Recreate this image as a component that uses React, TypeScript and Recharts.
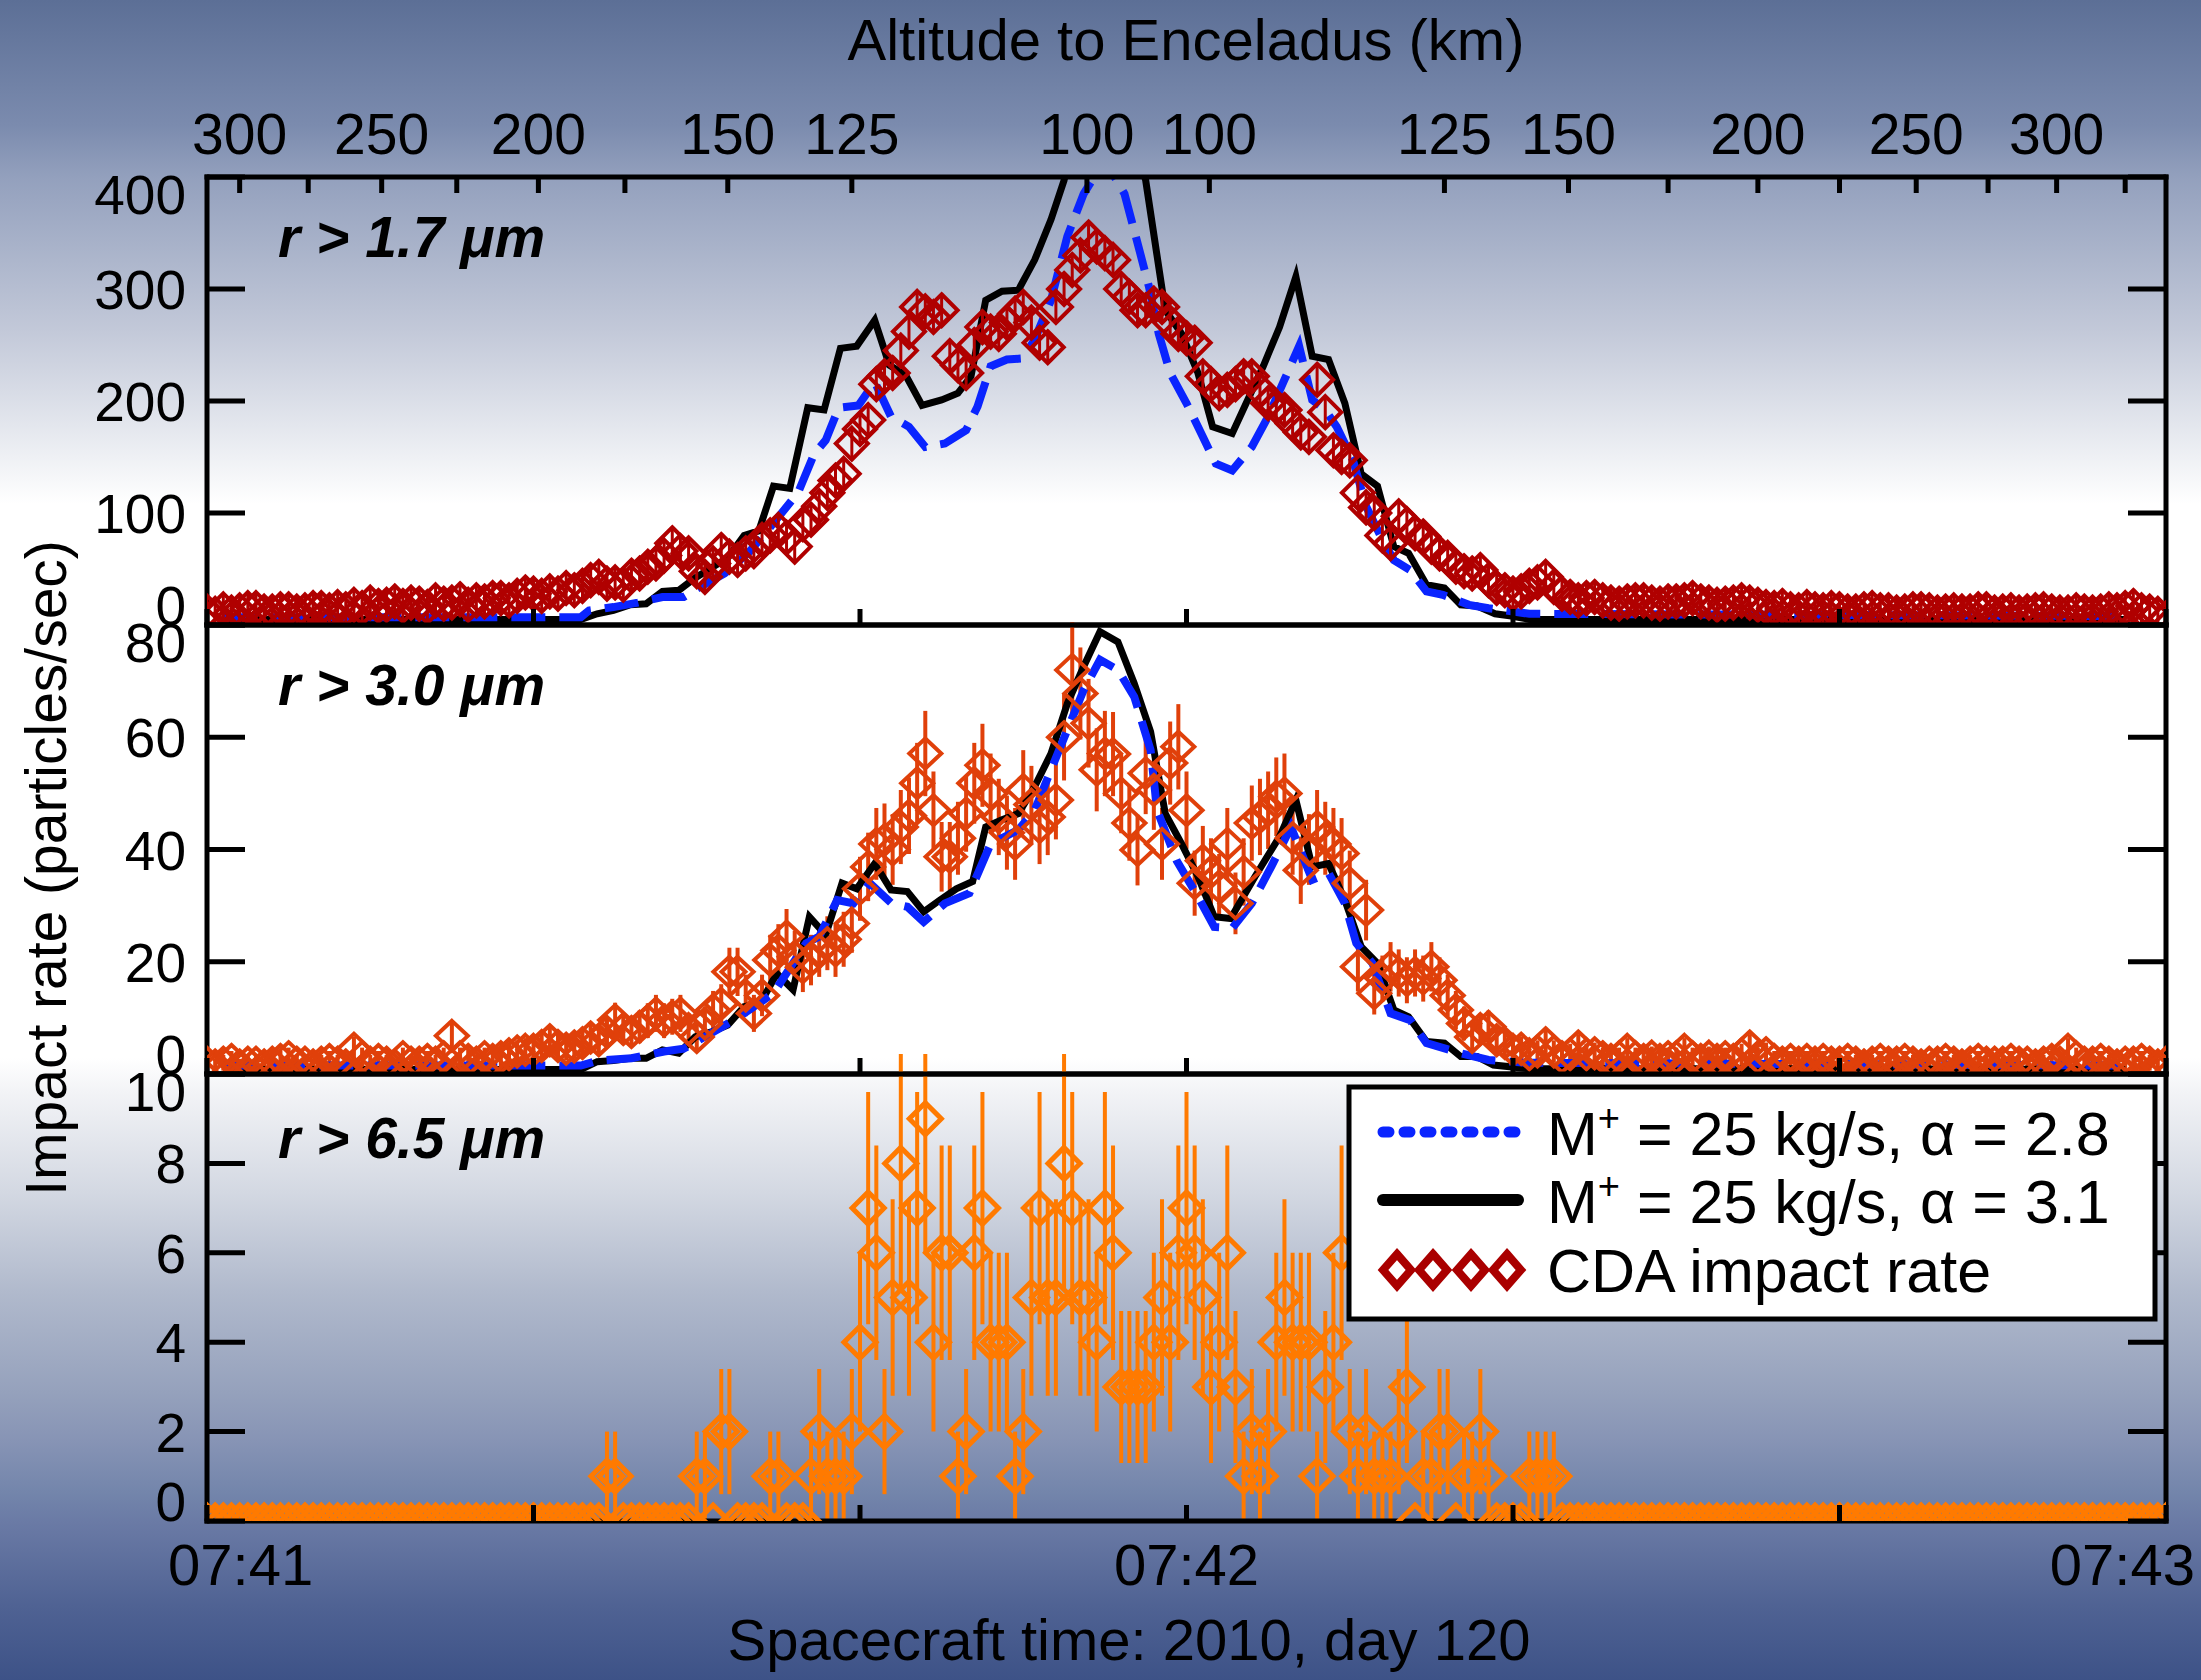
import React from "react"
import { ComposedChart, Line, Scatter, XAxis, YAxis, ErrorBar } from "recharts"

const FONT = '"Liberation Sans", Arial, Helvetica, sans-serif'

// x is seconds after 07:41:00 (spacecraft time, 2010 day 120)
const timeTicks = [0, 20, 40, 60, 80, 100, 120]
const timeLabels = ["07:41", "", "", "07:42", "", "", "07:43"]

// altitude to Enceladus (km) -> time of crossing
const altTickTimes = [2.0, 6.2, 10.7, 15.3, 20.3, 25.6, 31.9, 39.5, 53.9, 61.4, 75.8, 83.4, 89.5, 95.0, 100.0, 104.7, 109.1, 113.3, 117.5]
const altTickLabels = ["300", "", "250", "", "200", "", "150", "125", "100", "100", "125", "150", "", "200", "", "250", "", "300", ""]

const p1Ticks = [0, 100, 200, 300, 400]
const p2Ticks = [0, 20, 40, 60, 80]
const p3Ticks = [0, 2, 4, 6, 8, 10]

// model: M+ = 25 kg/s, alpha = 3.1 (black) and 2.8 (blue), r > 1.7 um
const p1BlackT = [1, 22.9, 23.9, 24.9, 25.9, 26.9, 27.9, 28.9, 29.9, 30.9, 31.9, 32.9, 33.8, 34.7, 35.7, 36.8, 37.8, 38.8, 39.8, 40.9, 41.8, 42.8, 43.8, 45, 46, 46.8, 47.7, 48.7, 49.7, 50.7, 51.7, 52.5, 53.5, 54.7, 56, 57.5, 58.7, 59.7, 60.7, 61.6, 62.8, 64.7, 65.7, 66.7, 67.7, 68.7, 69.7, 70.7, 71.7, 72.7, 73.6, 74.7, 75.8, 76.8, 77.8, 78.9, 79.9, 81, 117.5]
const p1BlackV = [5, 5, 10, 13, 18, 19, 30, 31, 42, 51, 60, 80, 84, 124, 122, 194, 192, 247, 249, 272, 232, 223, 196, 201, 207, 222, 290, 298, 299, 326, 362, 397, 470, 540, 470, 397, 281, 260, 225, 177, 171, 231, 266, 311, 240, 237, 198, 135, 124, 70, 64, 36, 33, 18, 17, 10, 8, 5, 5]
const p1BlueT = [1, 22.9, 23.4, 24.9, 26.4, 27.9, 29.2, 30.2, 31.7, 33.2, 34.2, 35.2, 36.2, 37.2, 37.9, 38.7, 39.9, 40.9, 41.9, 43, 44, 45.2, 46.5, 47.2, 48, 49, 50, 50.7, 51.7, 52.7, 53.7, 55, 56.2, 57.2, 57.7, 58.3, 59, 60, 61, 61.8, 62.8, 64, 65, 66, 66.9, 67.7, 68.5, 69.2, 70.2, 71, 72, 72.7, 73.7, 74.7, 75.7, 77.3, 78.5, 81, 117.5]
const p1BlueV = [7, 7, 13, 16, 20, 25, 25, 34, 46, 65, 82, 100, 118, 153, 165, 194, 196, 217, 186, 177, 159, 162, 174, 195, 231, 237, 238, 255, 290, 347, 385, 415, 385, 330, 302, 260, 225, 198, 168, 144, 138, 159, 186, 219, 249, 201, 192, 177, 147, 106, 76, 58, 49, 30, 27, 18, 15, 10, 8]

// r > 3.0 um
const p2BlackT = [1, 22.9, 23.9, 24.9, 25.9, 26.9, 27.9, 28.9, 29.9, 30.9, 31.9, 32.9, 33.9, 34.9, 35.9, 36.9, 37.9, 38.9, 39.8, 40.9, 41.9, 42.9, 43.9, 44.9, 45.9, 46.9, 47.7, 48.7, 49.7, 50.7, 51.7, 52.7, 53.7, 54.7, 55.8, 56.8, 57.8, 58.7, 59.7, 60.7, 61.7, 62.7, 64.2, 65.7, 66.7, 67.7, 68.7, 69.7, 70.7, 71.7, 72.7, 73.6, 74.7, 75.8, 76.8, 77.8, 78.8, 80.8, 117.5]
const p2BlackV = [0.8, 0.8, 2.2, 2.4, 2.8, 2.8, 4.3, 3.7, 6.6, 7.5, 8.7, 12, 12.6, 17.9, 15, 28, 24.8, 34, 33, 37.5, 32.8, 32.5, 28.9, 31, 33, 34.3, 44, 45.3, 46.4, 51.2, 57.1, 66, 72.6, 78.8, 77, 69.6, 61, 46.4, 41, 35.2, 28, 27.7, 35.2, 42.3, 48.8, 36.9, 37.5, 31, 22.7, 19.7, 11.4, 10.2, 5.8, 5.5, 3.1, 3.1, 1.6, 1.0, 0.8]
const p2BlueT = [1, 22.9, 24, 26, 28, 29.2, 30.9, 32.5, 34.7, 36.7, 37.5, 38.6, 39.6, 40.6, 41.9, 42.9, 43.9, 45.2, 46.7, 48, 49.7, 50.7, 51.7, 52.7, 53.7, 54.7, 55.8, 56.8, 57.8, 58.2, 59.4, 60.7, 61.7, 62.8, 64, 65.2, 66.4, 67.7, 68.7, 69.7, 70.4, 71.4, 72.5, 73.7, 74.7, 76.8, 78.5, 80.8, 117.5]
const p2BlueV = [1.5, 1.5, 2.4, 2.8, 4, 4.5, 7.3, 10, 14.4, 23.3, 24.5, 31, 30.4, 34, 30.5, 29.8, 27.1, 30.4, 32.2, 41, 43.5, 47, 54.2, 61.3, 68.4, 73.8, 72, 67.2, 57.7, 47, 38, 31.6, 26.2, 26, 30.4, 37, 44, 34.6, 35.8, 30.4, 23.3, 19.7, 10.8, 9.6, 5.5, 3.7, 2.5, 2.0, 1.5]

// CDA impact rates, one sample every 0.5 s from 07:41:00
const cdaStep = 0.5
const p1Rate = [
  12, 10, 14, 11, 13, 15, 15, 12, 12, 14, 14, 12, 13, 15, 15, 13, 16, 14, 18, 15,
  20, 17, 18, 21, 17, 20, 19, 16, 22, 19, 20, 23, 18, 22, 21, 24, 24, 22, 26, 29,
  28, 26, 30, 28, 33, 31, 35, 40, 43, 37, 38, 36, 44, 46, 52, 55, 62, 73, 66, 64,
  48, 43, 55, 67, 61, 58, 64, 66, 76, 80, 85, 78, 70, 90, 94, 106, 118, 129, 135, 162,
  175, 183, 215, 222, 225, 245, 262, 284, 280, 275, 281, 240, 232, 225, 250, 266, 262, 260, 270, 278,
  284, 270, 252, 248, 284, 300, 317, 330, 346, 338, 332, 326, 300, 293, 281, 281, 287, 284, 270, 260,
  256, 252, 222, 215, 207, 210, 215, 222, 222, 210, 198, 195, 192, 180, 172, 168, 219, 190, 156, 150,
  147, 118, 105, 100, 80, 73, 97, 90, 82, 79, 70, 64, 60, 52, 48, 46, 49, 40, 33, 31,
  28, 30, 35, 38, 43, 34, 28, 25, 22, 24, 25, 22, 20, 19, 21, 22, 22, 20, 19, 21,
  21, 22, 24, 21, 20, 18, 19, 20, 22, 20, 18, 16, 15, 17, 14, 13, 16, 14, 13, 15,
  14, 12, 12, 14, 15, 13, 13, 11, 12, 14, 14, 13, 11, 12, 13, 12, 12, 14, 14, 11,
  12, 13, 11, 12, 13, 14, 12, 11, 11, 13, 12, 11, 12, 14, 13, 15, 17, 13, 12, 10,
  6,
]
const p2Rate = [
  2, 1.5, 2, 2.5, 1.5, 2, 2, 1.5, 2, 2.5, 3, 2, 2, 1.5, 2, 2.5, 2, 1.5, 4.5, 3,
  2, 2.5, 2, 1.5, 3, 2, 2, 2.5, 2, 3, 6.8, 3, 2.5, 2, 3, 2.5, 3, 3.5, 4, 4.3,
  4.3, 5, 6, 5, 4.5, 4.9, 5.5, 6.5, 6, 7.5, 9.6, 8, 7.5, 8.4, 9.5, 10.8, 9.5, 10.2, 10.8, 8,
  6.6, 9, 11.4, 12.5, 18.2, 18.2, 14, 10.8, 14, 20.3, 22, 24.5, 20.9, 19, 20.3, 22, 23.3, 22, 24, 26.8,
  33, 36.9, 41, 41.7, 40, 44, 46, 51.8, 57.1, 47, 38.7, 38.7, 42, 46.4, 51.8, 55, 50, 45.8, 43, 41,
  50.6, 48, 44, 45.8, 48.8, 60, 72, 67.8, 62.5, 54.2, 57.1, 57, 50, 44.7, 39.9, 53.6, 50.6, 41, 55.4, 58.3,
  47, 34, 38, 36, 33.4, 41, 30.4, 36, 44.7, 45.8, 47, 49.4, 50, 42, 36.3, 40, 44, 42, 41, 39.3,
  34, 19.1, 29.2, 14.4, 17, 19.1, 18, 16.7, 18, 17, 19.1, 16.7, 14, 11.4, 9, 6.6, 8, 8.4, 6, 5.5,
  4.3, 4.5, 3.5, 4, 5.5, 4, 3, 3.5, 4.9, 3.5, 3.7, 3, 2.5, 3, 4.3, 3, 2.5, 3.1, 2.5, 3,
  3, 4.3, 3, 2.5, 3.1, 2.5, 3, 2.5, 3.5, 4.9, 3, 3.7, 2.5, 2, 2.5, 2, 2.5, 2, 2.5, 2,
  2, 2.5, 2, 1.5, 2, 2.5, 2, 2, 2.5, 2, 1.5, 2, 2, 2.5, 2, 1.5, 2, 2.5, 2, 2,
  2, 2.5, 2, 2, 1.5, 2, 2.5, 2, 4.3, 3, 2, 2, 2.5, 2, 1.5, 2, 2, 2.5, 2, 1.5,
  2,
]
const p2Err = [
  1.4, 1.2, 1.4, 1.6, 1.2, 1.4, 1.4, 1.2, 1.4, 1.6, 1.7, 1.4, 1.4, 1.2, 1.4, 1.6, 1.4, 1.2, 2.1, 1.7,
  1.4, 1.6, 1.4, 1.2, 1.7, 1.4, 1.4, 1.6, 1.4, 1.7, 2.6, 1.7, 1.6, 1.4, 1.7, 1.6, 1.7, 1.9, 2, 2.1,
  2.1, 2.2, 2.4, 2.2, 2.1, 2.2, 2.3, 2.5, 2.4, 2.7, 3.1, 2.8, 2.7, 2.9, 3.1, 3.3, 3.1, 3.2, 3.3, 2.8,
  2.6, 3, 3.4, 3.5, 4.3, 4.3, 3.7, 3.3, 3.7, 4.5, 4.7, 4.9, 4.6, 4.4, 4.5, 4.7, 4.8, 4.7, 4.9, 5.2,
  5.7, 6.1, 6.4, 6.5, 6.3, 6.6, 6.8, 7.2, 7.6, 6.9, 6.2, 6.2, 6.5, 6.8, 7.2, 7.4, 7.1, 6.8, 6.6, 6.4,
  7.1, 6.9, 6.6, 6.8, 7, 7.7, 8.5, 8.2, 7.9, 7.4, 7.6, 7.5, 7.1, 6.7, 6.3, 7.3, 7.1, 6.4, 7.4, 7.6,
  6.9, 5.8, 6.2, 6, 5.8, 6.4, 5.5, 6, 6.7, 6.8, 6.9, 7, 7.1, 6.5, 6, 6.3, 6.6, 6.5, 6.4, 6.3,
  5.8, 4.4, 5.4, 3.8, 4.1, 4.4, 4.2, 4.1, 4.2, 4.1, 4.4, 4.1, 3.7, 3.4, 3, 2.6, 2.8, 2.9, 2.4, 2.3,
  2.1, 2.1, 1.9, 2, 2.3, 2, 1.7, 1.9, 2.2, 1.9, 1.9, 1.7, 1.6, 1.7, 2.1, 1.7, 1.6, 1.8, 1.6, 1.7,
  1.7, 2.1, 1.7, 1.6, 1.8, 1.6, 1.7, 1.6, 1.9, 2.2, 1.7, 1.9, 1.6, 1.4, 1.6, 1.4, 1.6, 1.4, 1.6, 1.4,
  1.4, 1.6, 1.4, 1.2, 1.4, 1.6, 1.4, 1.4, 1.6, 1.4, 1.2, 1.4, 1.4, 1.6, 1.4, 1.2, 1.4, 1.6, 1.4, 1.4,
  1.4, 1.6, 1.4, 1.4, 1.2, 1.4, 1.6, 1.4, 2.1, 1.7, 1.4, 1.4, 1.6, 1.4, 1.2, 1.4, 1.4, 1.6, 1.4, 1.2,
  1.4,
]
// r > 6.5 um: counts per 0.5 s slot (one digit each)
const p3Counts = [
  "0000000000", "0000000000", "0000000000", "0000000000",
  "0000000001", "1000000000", "1102200001", "1000121112",
  "4762585794", "6612674441", "2575587554", "7633334546",
  "7653463121", "2454441346", "2121112301", "1220112100",
  "0011110000", "0000000000", "0000000000", "0000000000",
  "0000000000", "0000000000", "0000000000", "0000000000",
  "0",
].join("")
const p3ErrByCount = [0, 1, 1.4, 1.7, 2, 2.2, 2.4, 2.6, 2.8, 3]

const toSeries = (ts: number[], vs: number[]) => ts.map((t, i) => ({ t, v: vs[i] }))
const p1Black = toSeries(p1BlackT, p1BlackV)
const p1Blue = toSeries(p1BlueT, p1BlueV)
const p2Black = toSeries(p2BlackT, p2BlackV)
const p2Blue = toSeries(p2BlueT, p2BlueV)
const cda1 = p1Rate.map((v, i) => ({ t: i * cdaStep, v }))
const cda2 = p2Rate.map((v, i) => ({ t: i * cdaStep, v, e: p2Err[i] }))
const cda3 = p3Counts.split("").map((c, i) => ({ t: i * cdaStep, v: Number(c), e: p3ErrByCount[Number(c)] }))
// anchors the altitude axis to the time range (not drawn)
const altSpan = [{ t: 0, v: 0 }, { t: 120, v: 0 }]

const PLOT_L = 207
const PLOT_R = 2166
const BLUE = "#0a24ff"
const RED1 = "#b00000"
const RED2 = "#e0400a"
const ORANGE = "#ff7a00"
const axisLineStyle = { stroke: "#000", strokeWidth: 5, strokeLinecap: "square" as const }

const diamond = (cx: number, cy: number, hw: number, hh: number) =>
  `M${cx},${cy - hh}L${cx + hw},${cy}L${cx},${cy + hh}L${cx - hw},${cy}Z`

const Diamond1 = (p: any) => (
  <g>
    <path d={diamond(p.cx, p.cy, 16, 16)} fill="none" stroke={RED1} strokeWidth={4} />
    <line x1={p.cx} x2={p.cx} y1={p.cy - 16} y2={p.cy + 16} stroke={RED1} strokeWidth={3} />
  </g>
)
const Diamond2 = (p: any) => <path d={diamond(p.cx, p.cy, 16, 15)} fill="none" stroke={RED2} strokeWidth={4} />
const Diamond3 = (p: any) => <path d={diamond(p.cx, p.cy, 16, 16)} fill="none" stroke={ORANGE} strokeWidth={5} />

const makeLeftTick = (yMin: number, yMax: number) => (props: any) => {
  const { y, payload } = props
  const v = payload.value
  const dy = v === yMax ? 37 : v === yMin ? 0 : 20
  return (
    <g>
      <line x1={PLOT_L} x2={PLOT_L + 38} y1={y} y2={y} stroke="#000" strokeWidth={5} />
      <text x={PLOT_L - 21} y={y + dy} textAnchor="end" fontSize={55} fontFamily={FONT} fill="#000">
        {v}
      </text>
    </g>
  )
}

const rightTick = (props: any) => (
  <line x1={PLOT_R} x2={PLOT_R - 38} y1={props.y} y2={props.y} stroke="#000" strokeWidth={5} />
)

const makeTimeTick = (bottomY: number, withLabels: boolean) => (props: any) => {
  const { x, payload } = props
  const idx = timeTicks.indexOf(payload.value)
  const label = withLabels ? timeLabels[idx] : ""
  const anchor = idx === 0 ? "start" : idx === timeTicks.length - 1 ? "end" : "middle"
  const lx = idx === 0 ? x - 39 : idx === timeTicks.length - 1 ? x + 29 : x
  return (
    <g>
      <line x1={x} x2={x} y1={bottomY} y2={bottomY - 16} stroke="#000" strokeWidth={5} />
      {label && (
        <text x={lx} y={bottomY + 64} textAnchor={anchor} fontSize={58} fontFamily={FONT} fill="#000">
          {label}
        </text>
      )}
    </g>
  )
}

const altTick = (props: any) => {
  const { x, payload } = props
  const label = altTickLabels[altTickTimes.indexOf(payload.value)]
  return (
    <g>
      <line x1={x} x2={x} y1={177} y2={193} stroke="#000" strokeWidth={5} />
      {label && (
        <text x={x} y={154} textAnchor="middle" fontSize={57} fontFamily={FONT} fill="#000">
          {label}
        </text>
      )}
    </g>
  )
}

export default function App() {
  const bg =
    "linear-gradient(to bottom, #5c6f96 0px, #7b8bae 125px, #93a0bd 177px, #c3c9d9 332px, #eef0f4 456px, #ffffff 504px, #ffffff 1058px, #f2f3f6 1093px, #d3d8e2 1193px, #b0b9cc 1293px, #95a1bc 1393px, #8794b5 1440px, #7385ab 1493px, #6a7aa5 1523px, #4f6293 1607px, #3d5287 1680px)"
  return (
    <div style={{ position: "absolute", left: 0, top: 0, width: 2201, height: 1680, background: bg, overflow: "hidden" }}>
      {/* r > 1.7 um */}
      <div style={{ position: "absolute", left: 0, top: 0 }}>
        <ComposedChart width={2201} height={645} margin={{ top: 0, right: 0, bottom: 0, left: 0 }}>
          <XAxis xAxisId="alt" orientation="top" type="number" dataKey="t" domain={[0, 120]} ticks={altTickTimes} interval={0}
            height={177} tickLine={false} tickSize={0} tick={altTick} axisLine={axisLineStyle} allowDataOverflow />
          <XAxis type="number" dataKey="t" domain={[0, 120]} ticks={timeTicks} interval={0} height={20}
            tickLine={false} tickSize={0} tick={makeTimeTick(625, false)} axisLine={axisLineStyle} allowDataOverflow />
          <YAxis type="number" domain={[0, 400]} ticks={p1Ticks} interval={0} width={207} tickLine={false}
            tickSize={0} tick={makeLeftTick(0, 400)} axisLine={axisLineStyle} allowDataOverflow />
          <YAxis yAxisId="r" orientation="right" type="number" domain={[0, 400]} ticks={p1Ticks} interval={0}
            width={35} tickLine={false} tickSize={0} tick={rightTick} axisLine={axisLineStyle} allowDataOverflow />
          <Line xAxisId="alt" yAxisId="r" data={altSpan} dataKey="v" stroke="none" dot={false} activeDot={false} isAnimationActive={false} />
          <Scatter data={cda1} dataKey="v" shape={Diamond1} isAnimationActive={false} />
          <Line data={p1Black} dataKey="v" type="linear" stroke="#000" strokeWidth={7} dot={false} activeDot={false} isAnimationActive={false} />
          <Line data={p1Blue} dataKey="v" type="linear" stroke={BLUE} strokeWidth={8} strokeDasharray="34 14" dot={false} activeDot={false} isAnimationActive={false} />
        </ComposedChart>
      </div>

      {/* r > 3.0 um */}
      <div style={{ position: "absolute", left: 0, top: 605 }}>
        <ComposedChart width={2201} height={489} margin={{ top: 0, right: 0, bottom: 0, left: 0 }}>
          <XAxis xAxisId="top" orientation="top" type="number" domain={[0, 120]} height={20} tick={false}
            tickLine={false} axisLine={axisLineStyle} allowDataOverflow />
          <XAxis type="number" dataKey="t" domain={[0, 120]} ticks={timeTicks} interval={0} height={20}
            tickLine={false} tickSize={0} tick={makeTimeTick(469, false)} axisLine={axisLineStyle} allowDataOverflow />
          <YAxis type="number" domain={[0, 80]} ticks={p2Ticks} interval={0} width={207} tickLine={false}
            tickSize={0} tick={makeLeftTick(0, 80)} axisLine={axisLineStyle} allowDataOverflow />
          <YAxis yAxisId="r" orientation="right" type="number" domain={[0, 80]} ticks={p2Ticks} interval={0}
            width={35} tickLine={false} tickSize={0} tick={rightTick} axisLine={axisLineStyle} allowDataOverflow />
          <Scatter data={cda2} dataKey="v" shape={Diamond2} isAnimationActive={false}>
            <ErrorBar dataKey="e" direction="y" width={0} stroke={RED2} strokeWidth={4} isAnimationActive={false} />
          </Scatter>
          <Line data={p2Black} dataKey="v" type="linear" stroke="#000" strokeWidth={7} dot={false} activeDot={false} isAnimationActive={false} />
          <Line data={p2Blue} dataKey="v" type="linear" stroke={BLUE} strokeWidth={8} strokeDasharray="34 14" dot={false} activeDot={false} isAnimationActive={false} />
        </ComposedChart>
      </div>

      {/* r > 6.5 um */}
      <div style={{ position: "absolute", left: 0, top: 1054 }}>
        <ComposedChart width={2201} height={626} margin={{ top: 0, right: 0, bottom: 0, left: 0 }}>
          <XAxis xAxisId="top" orientation="top" type="number" domain={[0, 120]} height={20} tick={false}
            tickLine={false} axisLine={axisLineStyle} allowDataOverflow />
          <XAxis type="number" dataKey="t" domain={[0, 120]} ticks={timeTicks} interval={0} height={159}
            tickLine={false} tickSize={0} tick={makeTimeTick(467, true)} axisLine={axisLineStyle} allowDataOverflow />
          <YAxis type="number" domain={[0, 10]} ticks={p3Ticks} interval={0} width={207} tickLine={false}
            tickSize={0} tick={makeLeftTick(0, 10)} axisLine={axisLineStyle} allowDataOverflow />
          <YAxis yAxisId="r" orientation="right" type="number" domain={[0, 10]} ticks={p3Ticks} interval={0}
            width={35} tickLine={false} tickSize={0} tick={rightTick} axisLine={axisLineStyle} allowDataOverflow />
          <Scatter data={cda3} dataKey="v" shape={Diamond3} isAnimationActive={false}>
            <ErrorBar dataKey="e" direction="y" width={0} stroke={ORANGE} strokeWidth={4} isAnimationActive={false} />
          </Scatter>
        </ComposedChart>
      </div>

      {/* titles, panel labels and legend */}
      <svg width={2201} height={1680} style={{ position: "absolute", left: 0, top: 0, pointerEvents: "none" }} fontFamily={FONT}>
        <text x={1186} y={60} textAnchor="middle" fontSize={58}>Altitude to Enceladus (km)</text>
        <text x={1129} y={1660} textAnchor="middle" fontSize={58}>Spacecraft time: 2010, day 120</text>
        <text x={66} y={868} textAnchor="middle" fontSize={57} transform="rotate(-90 66 868)">Impact rate (particles/sec)</text>
        <g fontSize={57} fontWeight="bold" fontStyle="italic">
          <text x={278} y={257}>r &gt; 1.7 μm</text>
          <text x={278} y={705}>r &gt; 3.0 μm</text>
          <text x={278} y={1158}>r &gt; 6.5 μm</text>
        </g>
        <rect x={1349} y={1087} width={806} height={232} fill="#fff" stroke="#000" strokeWidth={5} />
        <line x1={1383} x2={1518} y1={1132} y2={1132} stroke={BLUE} strokeWidth={11} strokeDasharray="6 15" strokeLinecap="round" />
        <line x1={1383} x2={1518} y1={1200} y2={1200} stroke="#000" strokeWidth={12} strokeLinecap="round" />
        {[1397, 1433, 1471, 1507].map((cx) => (
          <path key={cx} d={diamond(cx, 1270, 14, 16)} fill="#fff" stroke="#aa0000" strokeWidth={8} />
        ))}
        <g fontSize={61}>
          <text x={1547} y={1155}>
            M<tspan fontSize={38} dy={-24}>+</tspan><tspan dy={24}> = 25 kg/s, α = 2.8</tspan>
          </text>
          <text x={1547} y={1223}>
            M<tspan fontSize={38} dy={-24}>+</tspan><tspan dy={24}> = 25 kg/s, α = 3.1</tspan>
          </text>
          <text x={1547} y={1292}>CDA impact rate</text>
        </g>
      </svg>
    </div>
  )
}
